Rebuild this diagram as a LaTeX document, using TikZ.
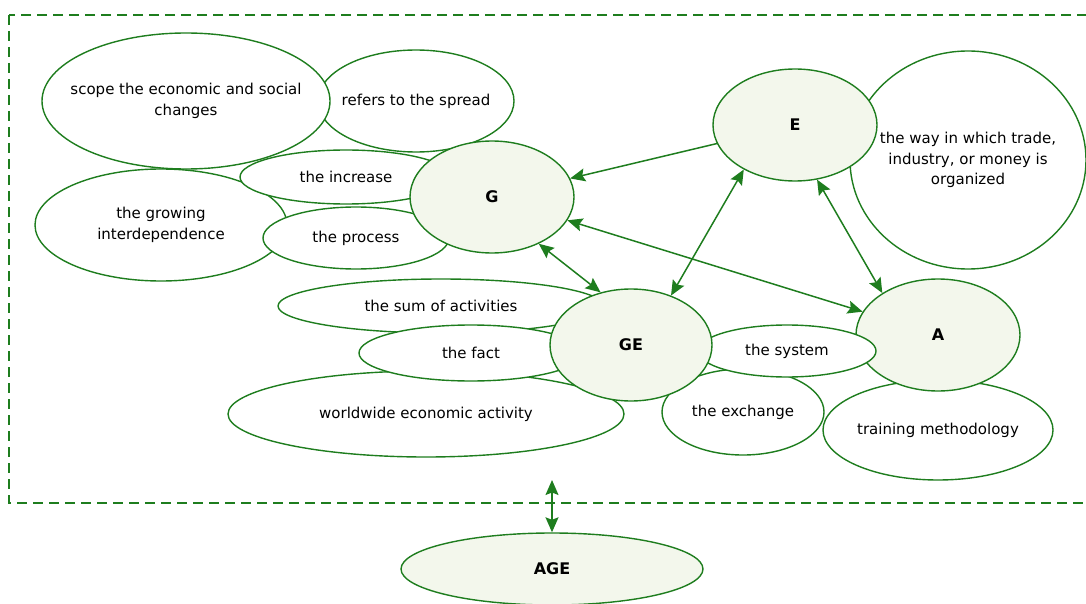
\documentclass[tikz,border=0pt]{standalone}
\usepackage{fontspec}
\setmainfont{DejaVu Sans}
\usepackage{tikz}
\usetikzlibrary{shapes.geometric, arrows.meta}
\usepackage{xcolor}
\definecolor{lineg}{RGB}{30,125,30}
\definecolor{nodefill}{RGB}{243,247,236}

\begin{document}
\begin{tikzpicture}[x=1pt, y=-1pt,
    bubble/.style={ellipse, draw=lineg, fill=white, line width=1.4pt, inner sep=0pt},
    txt/.style={font=\fontsize{15}{20.5}\selectfont, align=center, inner sep=0pt},
    main/.style={ellipse, draw=lineg, fill=nodefill, line width=1.4pt, inner sep=0pt,
        font=\fontsize{16}{19}\selectfont\bfseries},
    link/.style={draw=lineg, line width=1.5pt},
    oneway/.style={link, -{Stealth[length=15pt,width=13pt,inset=2.5pt]}},
    twoway/.style={link, {Stealth[length=15pt,width=13pt,inset=2.5pt]}-{Stealth[length=15pt,width=13pt,inset=2.5pt]}},
    frame/.style={draw=lineg, line width=1.4pt, dash pattern=on 10pt off 6pt}]
    \useasboundingbox (0,0) rectangle (1086,604);

    % Moldura tracejada
    \draw[frame] (9,15) rectangle (1100,503);

    % Grupo G
    \node (spread) at (416,101) [bubble, minimum width=196, minimum height=102,
        label={[txt]center:refers to the spread}] {};
    \node (scope) at (186,101) [bubble, minimum width=288, minimum height=136,
        label={[txt]center:scope the economic and social\\changes}] {};
    \node (growing) at (161,225) [bubble, minimum width=252, minimum height=112,
        label={[txt]center:the growing\\interdependence}] {};
    \node (increase) at (346,177) [bubble, minimum width=212, minimum height=54,
        label={[txt]center:the increase}] {};
    \node (process) at (356,238) [bubble, minimum width=186, minimum height=62,
        label={[txt]center:the process}] {};
    \node (G) at (492,197) [main, minimum width=164, minimum height=112] {G};

    % Grupo E
    \node (way) at (968,160) [bubble, minimum width=236, minimum height=218,
        label={[txt]center:the way in which trade,\\industry, or money is\\organized}] {};
    \node (E) at (795,125) [main, minimum width=164, minimum height=112] {E};

    % Grupo A
    \node (training) at (938,430) [bubble, minimum width=230, minimum height=100,
        label={[txt]center:training methodology}] {};
    \node (A) at (938,335) [main, minimum width=164, minimum height=112] {A};

    % Grupo GE
    \node (exchange) at (743,412) [bubble, minimum width=162, minimum height=86,
        label={[txt]center:the exchange}] {};
    \node (system) at (787,351) [bubble, minimum width=178, minimum height=52,
        label={[txt]center:the system}] {};
    \node (sum) at (441,306) [bubble, minimum width=326, minimum height=54,
        label={[txt]center:the sum of activities}] {};
    \node (world) at (426,414) [bubble, minimum width=396, minimum height=86,
        label={[txt]center:worldwide economic activity}] {};
    \node (fact) at (471,353) [bubble, minimum width=224, minimum height=56,
        label={[txt]center:the fact}] {};
    \node (GE) at (631,345) [main, minimum width=162, minimum height=112] {GE};

    % AGE
    \node (AGE) at (552,569) [main, minimum width=302, minimum height=72] {AGE};

    % Ligacoes
    \draw[oneway] (E) -- (G);
    \draw[twoway] (E.221) -- (GE.51);
    \draw[twoway] (E.292) -- (A.143);
    \draw[twoway] (G) -- (A);
    \draw[twoway] (G.315) -- (GE.120);

    % Seta para AGE
    \coordinate (frameb) at (552,480);
    \draw[twoway] (frameb) -- (AGE.north);
\end{tikzpicture}
\end{document}
